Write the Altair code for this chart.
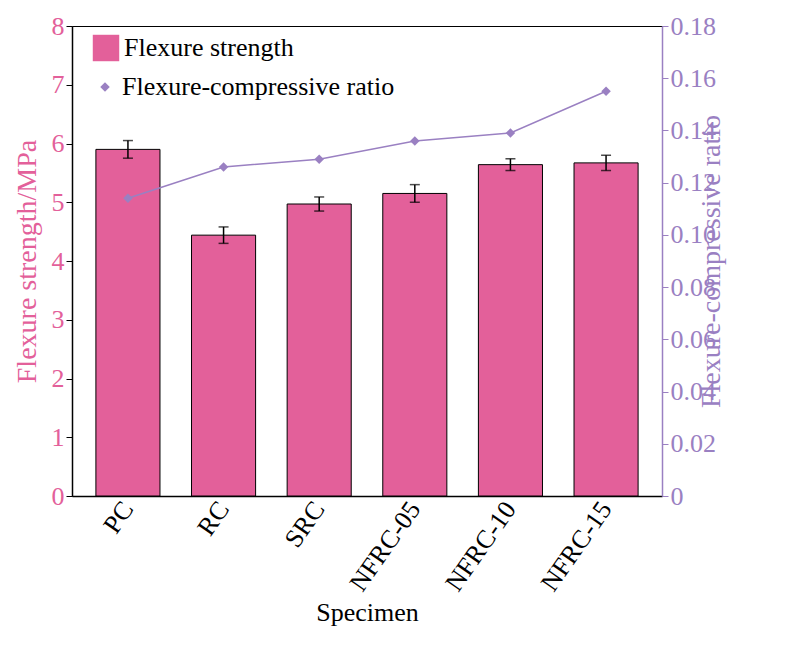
import altair as alt
import pandas as pd

specimens = ["PC", "RC", "SRC", "NFRC-05", "NFRC-10", "NFRC-15"]
strength = [5.90, 4.44, 4.97, 5.15, 5.64, 5.67]
err = [0.15, 0.14, 0.12, 0.15, 0.10, 0.13]
ratio = [0.114, 0.126, 0.129, 0.136, 0.139, 0.155]

df = pd.DataFrame({"s": specimens, "v": strength, "lo": [a - b for a, b in zip(strength, err)],
                   "hi": [a + b for a, b in zip(strength, err)], "r": ratio,
                   "leg1": "Flexure strength", "leg2": "Flexure-compressive ratio"})

PINK = "#e3609a"
PURPLE = "#9a80c2"
F = "Liberation Serif"
x = alt.X("s:N", sort=specimens, title="Specimen",
          scale=alt.Scale(paddingInner=0.33, paddingOuter=0.25),
          axis=alt.Axis(labelAngle=-55, labelFontSize=26, titleFontSize=26, labelFont=F, titleFont=F,
                        titleFontWeight="normal", labelColor="black", titleColor="black",
                        domainColor="black", labelAlign="right", labelBaseline="middle", ticks=False,
                        labelPadding=8))
yl = alt.Y("v:Q", title="Flexure strength/MPa", scale=alt.Scale(domain=[0, 8]),
           axis=alt.Axis(values=list(range(9)), format="d", labelColor=PINK, titleColor=PINK,
                         labelFontSize=26, titleFontSize=28, labelFont=F, titleFont=F,
                         titleFontWeight="normal", grid=False, domainColor="black",
                         tickColor="black", titlePadding=10))

bars = alt.Chart(df).mark_bar(color=PINK, stroke="black", strokeWidth=1).encode(
    x=x, y=yl, opacity=alt.Opacity("leg1:N", legend=alt.Legend(title=None, orient="none", legendX=20, legendY=8,
        labelFontSize=26, labelFont=F, symbolType="square", symbolSize=700, symbolFillColor=PINK,
        symbolStrokeColor="black", symbolStrokeWidth=1), scale=alt.Scale(range=[1])))
rules = alt.Chart(df).mark_rule(color="black", strokeWidth=1.5).encode(x=x, y=alt.Y("lo:Q"), y2="hi:Q")
caps_lo = alt.Chart(df).mark_tick(color="black", size=10, thickness=1.5).encode(x=x, y="lo:Q")
caps_hi = alt.Chart(df).mark_tick(color="black", size=10, thickness=1.5).encode(x=x, y="hi:Q")
left = alt.layer(bars, rules, caps_lo, caps_hi)

yr = alt.Y("r:Q", title="Flexure-compressive ratio", scale=alt.Scale(domain=[0, 0.18]),
           axis=alt.Axis(orient="right", values=[i * 0.02 for i in range(10)], format=".2f",
                         labelColor=PURPLE, titleColor=PURPLE, labelFontSize=26, titleFontSize=28,
                         labelFont=F, titleFont=F, titleFontWeight="normal", titleAngle=270,
                         grid=False, domainColor=PURPLE, tickColor=PURPLE, titlePadding=10,
                         labelExpr="datum.value == 0 ? '0' : datum.label"))
line = alt.Chart(df).mark_line(color=PURPLE, strokeWidth=1.5).encode(x=x, y=yr)
pts = alt.Chart(df).mark_point(shape="diamond", filled=True, color=PURPLE, size=90, opacity=1).encode(
    x=x, y=yr, shape=alt.Shape("leg2:N", scale=alt.Scale(range=["diamond"]),
        legend=alt.Legend(title=None, orient="none", legendX=20, legendY=48, labelFontSize=26, labelFont=F,
                          symbolFillColor=PURPLE, symbolStrokeColor=PURPLE, symbolSize=90)))
right = alt.layer(line, pts)

chart = alt.layer(left, right).resolve_scale(y="independent").properties(
    width=590, height=470).configure_view(stroke="black", strokeWidth=1).configure_axis(
    domainWidth=1.5, tickSize=6).configure_legend(labelLimit=400)
chart.save("out.html", embed_options={"renderer": "svg", "actions": False})
